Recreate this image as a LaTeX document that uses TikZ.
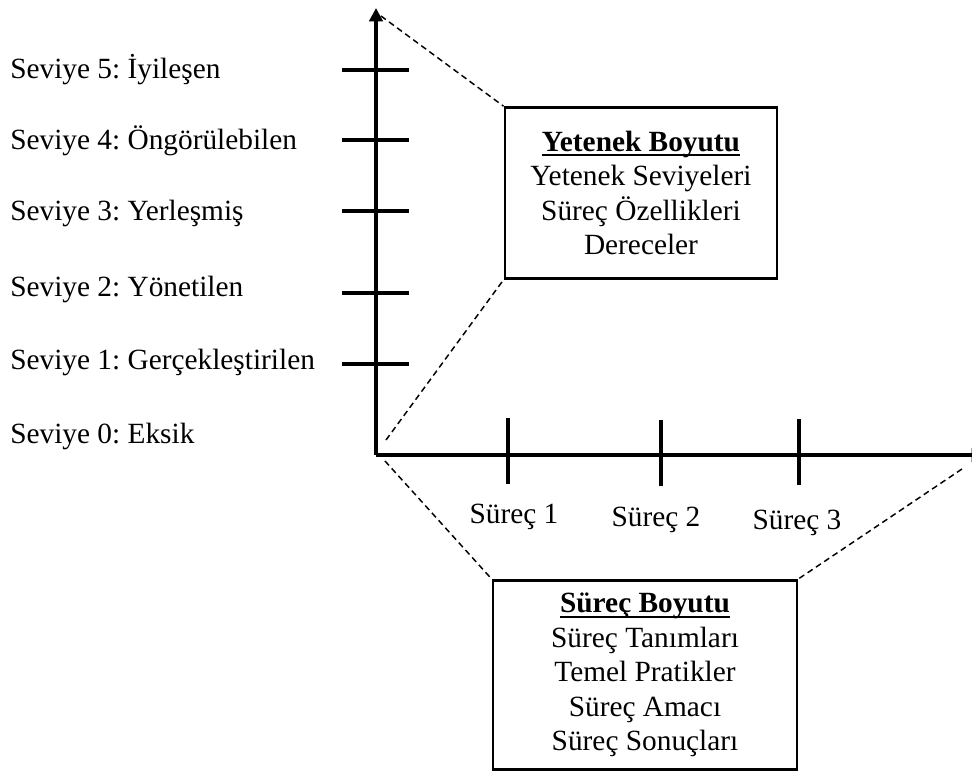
\documentclass[tikz,border=0pt]{standalone}
\usepackage{fontspec}
\setmainfont{Liberation Serif}
\usetikzlibrary{arrows.meta}
\frenchspacing
% bold heading with a heavy underline
\newcommand\ultitle[1]{\setbox0\hbox{\textbf{#1}}\rlap{\rule[-3.6pt]{\wd0}{1.5pt}}\box0}
\begin{document}
\begin{tikzpicture}[x=0.75pt,y=-0.75pt,
  axis/.style={line width=2.6pt,-{Triangle[length=10pt,width=10pt]}},
  tick/.style={line width=2.4pt},
  guide/.style={line width=1.1pt,dash pattern=on 4.5pt off 3pt},
  lbl/.style={font=\fontsize{22pt}{26pt}\selectfont,inner sep=0pt},
  infobox/.style={draw,line width=2.2pt,align=center,inner sep=0pt,
    font=\fontsize{22pt}{25.8pt}\selectfont}]
\useasboundingbox (0,0) rectangle (972,775);

% axes
\coordinate (o) at (376,455);
\coordinate (ytip) at (376,8);
\coordinate (xtip) at (985,455);
\draw[axis] (o) -- (ytip);
\draw[axis] (o) -- (xtip);

% level ticks on the vertical axis
\foreach \y in {70,140,211,293,364}
  \draw[tick] (342,\y) -- (409,\y);

% process ticks on the horizontal axis
\foreach \x/\a/\b in {508/418/484,661/420/486,799/419/485}
  \draw[tick] (\x,\a) -- (\x,\b);

% level labels
\node[lbl,anchor=base west] (l5) at (10,78)  {Seviye 5: İyileşen};
\node[lbl,anchor=base west] (l4) at (10,149) {Seviye 4: Öngörülebilen};
\node[lbl,anchor=base west] (l3) at (10,220) {Seviye 3: Yerleşmiş};
\node[lbl,anchor=base west] (l2) at (10,296) {Seviye 2: Yönetilen};
\node[lbl,anchor=base west] (l1) at (10,369) {Seviye 1: Gerçekleştirilen};
\node[lbl,anchor=base west] (l0) at (10,443) {Seviye 0: Eksik};

% process labels
\node[lbl,anchor=base] (p1) at (514,523) {Süreç 1};
\node[lbl,anchor=base] (p2) at (656,526) {Süreç 2};
\node[lbl,anchor=base] (p3) at (797,529) {Süreç 3};

% dimension boxes
\node[infobox,minimum width=204pt,minimum height=128pt] (cap) at (641,193)
  {\ultitle{Yetenek Boyutu}\\Yetenek Seviyeleri\\Süreç Özellikleri\\Dereceler};
\node[infobox,minimum width=228pt,minimum height=142pt] (proc) at (645,675)
  {\ultitle{Süreç Boyutu}\\Süreç Tanımları\\Temel Pratikler\\Süreç Amacı\\Süreç Sonuçları};

% guide lines from the axes to the boxes
\coordinate (g1) at (381,16);
\coordinate (g2) at (386,440);
\coordinate (g3) at (385,461);
\coordinate (g4) at (962,469);
\draw[guide] (g1) -- (cap.north west);
\draw[guide] (g2) -- (cap.south west);
\draw[guide] (g3) -- (proc.north west);
\draw[guide] (g4) -- (proc.north east);
\end{tikzpicture}
\end{document}
